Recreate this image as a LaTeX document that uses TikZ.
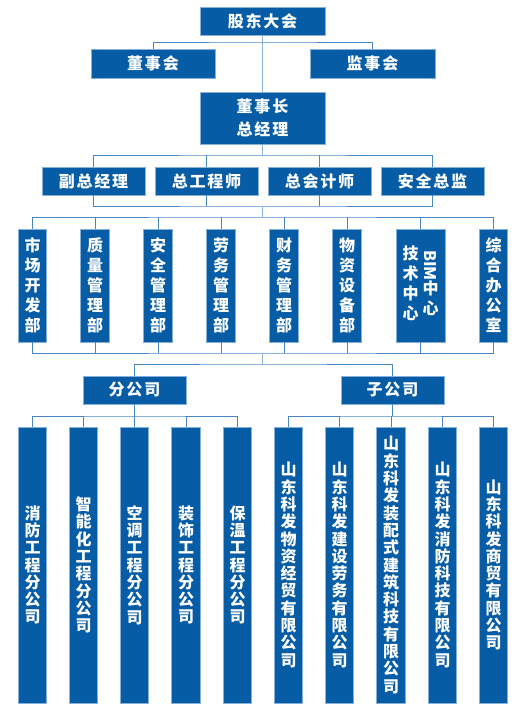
\documentclass[tikz,border=0pt]{standalone}
\usepackage{fontspec}
\usepackage{graphicx}
\newfontfamily\cjk{Noto Sans CJK SC}
\definecolor{boxblue}{HTML}{075CA6}
\definecolor{boxedge}{HTML}{86B0DC}
\definecolor{trunkc}{HTML}{8DB3DA}
\definecolor{branchc}{HTML}{4A86C4}
\newcommand{\vcol}[1]{\begin{tabular}[c]{@{}c@{}}#1\end{tabular}}
\begin{document}
\begin{tikzpicture}[x=1pt,y=-1pt,
  box/.style={fill=boxblue,draw=boxedge,line width=0.7pt,text=white,inner sep=0pt,align=center},
  hbox/.style={box,font=\cjk\bfseries\fontsize{16}{23}\selectfont\addfontfeatures{LetterSpace=11}},
  rowbox/.style={hbox,minimum width=103pt,minimum height=28pt},
  dept/.style={box,minimum width=28.5pt,minimum height=113pt,font=\cjk\bfseries\fontsize{16}{20}\selectfont},
  sub/.style={box,minimum width=28.5pt,minimum height=276pt,font=\cjk\bfseries\fontsize{16}{17.3}\selectfont},
  trunk/.style={draw=trunkc,line width=1.8pt},
  branch/.style={draw=branchc,line width=0.9pt}]
\useasboundingbox (0,0) rectangle (522,707);
% level 1-3
\node[hbox,minimum width=125pt,minimum height=28pt] (gd) at (262.5,21) {股东大会};
\node[hbox,minimum width=124pt,minimum height=29pt] (dsh) at (153,63.5) {董事会};
\node[hbox,minimum width=125pt,minimum height=29pt] (jsh) at (372.5,63.5) {监事会};
\node[hbox,minimum width=125pt,minimum height=52pt] (dsz) at (262.5,118) {董事长\\总经理};
% level 4
\node[rowbox] (r1) at (93.5,181) {副总经理};
\node[rowbox] (r2) at (206.5,181) {总工程师};
\node[rowbox] (r3) at (319.5,181) {总会计师};
\node[rowbox] (r4) at (432.5,181) {安全总监};
% departments
\node[dept] (d1) at (32.5,285.5) {市\\场\\开\\发\\部};
\node[dept] (d2) at (95,285.5) {质\\量\\管\\理\\部};
\node[dept] (d3) at (158,285.5) {安\\全\\管\\理\\部};
\node[dept] (d4) at (221,285.5) {劳\\务\\管\\理\\部};
\node[dept] (d5) at (284,285.5) {财\\务\\管\\理\\部};
\node[dept] (d6) at (347,285.5) {物\\资\\设\\备\\部};
\node[dept,minimum width=49pt] (d7) at (420.5,285.5) {\vcol{技\\术\\中\\心}\hspace{4pt}\vcol{\rotatebox[origin=c]{-90}{BIM}\\中\\心}};
\node[dept] (d8) at (493.5,285.5) {综\\合\\办\\公\\室};
% companies
\node[rowbox] (fgs) at (134.5,390) {分公司};
\node[rowbox] (zgs) at (392.5,390) {子公司};
\node[sub] (s1) at (32.5,565) {消\\防\\工\\程\\分\\公\\司};
\node[sub] (s2) at (83.5,565) {智\\能\\化\\工\\程\\分\\公\\司};
\node[sub] (s3) at (134.5,565) {空\\调\\工\\程\\分\\公\\司};
\node[sub] (s4) at (186,565) {装\\饰\\工\\程\\分\\公\\司};
\node[sub] (s5) at (237.5,565) {保\\温\\工\\程\\分\\公\\司};
\node[sub] (s6) at (288.5,565) {山\\东\\科\\发\\物\\资\\经\\贸\\有\\限\\公\\司};
\node[sub] (s7) at (339.5,565) {山\\东\\科\\发\\建\\设\\劳\\务\\有\\限\\公\\司};
\node[sub] (s8) at (391,565) {山\\东\\科\\发\\装\\配\\式\\建\\筑\\科\\技\\有\\限\\公\\司};
\node[sub] (s9) at (442.5,565) {山\\东\\科\\发\\消\\防\\科\\技\\有\\限\\公\\司};
\node[sub] (s10) at (493.5,565) {山\\东\\科\\发\\商\\贸\\有\\限\\公\\司};
% junctions
\coordinate (j1) at (262.5,42);
\coordinate (j2) at (262.5,155);
\coordinate (j3) at (262.5,206);
\coordinate (j4) at (262.5,217);
\coordinate (j5) at (262.5,353);
\coordinate (j6) at (262.5,364);
\coordinate (j7) at (134.5,416);
\coordinate (j8) at (391,416);
% connectors
\draw[branch] (dsh.north) |- (j1) -| (jsh.north);
\draw[branch] (r1.north) |- (j2) -| (r4.north);
\foreach \n in {r2,r3} \draw[branch] (\n.north) -- (\n.north |- j2);
\draw[branch] (r1.south) |- (j3) -| (r4.south);
\foreach \n in {r2,r3} \draw[branch] (\n.south) -- (\n.south |- j3);
\draw[branch] (d1.north) |- (j4) -| (d8.north);
\foreach \n in {d2,d3,d4,d5,d6,d7} \draw[branch] (\n.north) -- (\n.north |- j4);
\draw[branch] (d1.south) |- (j5) -| (d8.south);
\foreach \n in {d2,d3,d4,d5,d6,d7} \draw[branch] (\n.south) -- (\n.south |- j5);
\draw[branch] (fgs.north) |- (j6) -| (zgs.north);
\draw[branch] (fgs.south) -- (j7);
\draw[branch] (s1.north) |- (j7) -| (s5.north);
\foreach \n in {s2,s3,s4} \draw[branch] (\n.north) -- (\n.north |- j7);
\draw[branch] (zgs.south |- j8) -- (zgs.south);
\draw[branch] (s6.north) |- (j8) -| (s10.north);
\foreach \n in {s7,s8,s9} \draw[branch] (\n.north) -- (\n.north |- j8);
\draw[trunk] (gd.south) -- (dsz.north);
\draw[trunk] (dsz.south) -- (j2);
\draw[trunk] (j3) -- (j4);
\draw[trunk] (j5) -- (j6);
\end{tikzpicture}
\end{document}
